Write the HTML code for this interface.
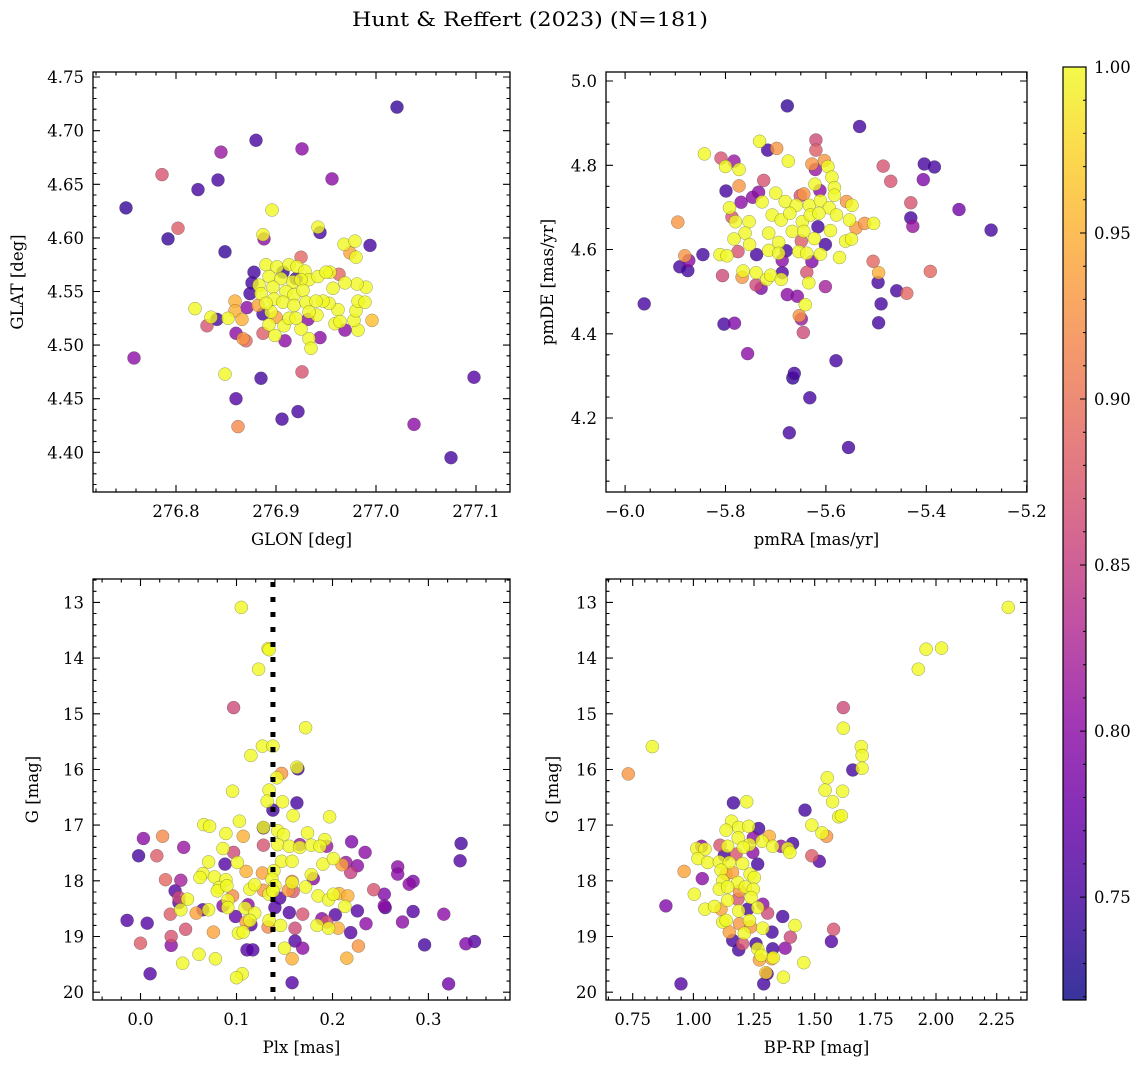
<!DOCTYPE html>
<html><head><meta charset="utf-8">
<style>
html,body{margin:0;padding:0;background:#fff;}
svg{display:block;font-family:"DejaVu Serif","Liberation Serif",serif;}
</style></head>
<body>
<svg id="fig" width="1148" height="1067" viewBox="0 0 1148 1067" xmlns="http://www.w3.org/2000/svg">
<text x="530" y="26" font-size="20" text-anchor="middle" textLength="356" lengthAdjust="spacingAndGlyphs">Hunt &amp; Reffert (2023) (N=181)</text>
</svg>
<script>
// ---- Panel 1: GLON vs GLAT ----
const glon = [277.021,276.880,276.845,276.926,276.786,276.842,276.822,276.956,276.750,276.896,
276.802,276.792,276.888,276.887,276.944,276.942,276.994,276.968,276.979,276.974,
276.980,276.849,276.925,276.878,276.876,276.874,276.871,276.841,276.831,276.819,
276.835,276.852,276.859,276.859,276.866,276.860,276.867,276.870,276.887,276.899,
276.909,276.944,276.933,276.935,276.969,276.982,276.996,276.978,276.980,276.962,
276.959,276.964,276.982,276.989,276.990,276.981,276.969,276.963,276.954,276.957,
276.953,276.947,276.941,276.932,276.925,276.908,276.893,276.895,276.900,276.887,
276.882,276.907,276.920,276.890,276.901,276.913,276.921,276.929,276.933,276.942,
276.883,276.893,276.905,276.917,276.925,276.885,276.897,276.910,276.918,276.927,
276.898,276.907,276.918,276.930,276.940,276.890,276.913,276.920,276.933,276.950,
276.758,276.849,276.885,276.926,276.860,276.906,276.922,276.862,277.038,277.098,
277.075];
const glat = [4.722,4.691,4.680,4.683,4.659,4.654,4.645,4.655,4.628,4.626,
4.609,4.599,4.599,4.603,4.605,4.610,4.593,4.594,4.597,4.586,
4.582,4.587,4.582,4.568,4.558,4.548,4.535,4.524,4.518,4.534,
4.526,4.525,4.541,4.532,4.524,4.511,4.506,4.504,4.511,4.509,
4.504,4.507,4.506,4.497,4.514,4.514,4.523,4.523,4.532,4.533,
4.520,4.522,4.541,4.540,4.554,4.557,4.558,4.566,4.568,4.553,
4.539,4.541,4.528,4.524,4.515,4.518,4.519,4.531,4.526,4.529,
4.537,4.568,4.562,4.575,4.573,4.575,4.573,4.569,4.561,4.564,
4.556,4.564,4.562,4.559,4.561,4.548,4.554,4.550,4.547,4.551,
4.543,4.540,4.537,4.540,4.541,4.539,4.525,4.525,4.531,4.568,
4.488,4.473,4.469,4.475,4.450,4.431,4.438,4.424,4.426,4.470,
4.395];
const prob1 = [.74,.75,.81,.80,.87,.75,.75,.80,.74,1,
.88,.74,.80,1,.75,1,.75,1,1,.94,
1,.74,.89,.75,.75,.75,.80,.75,.87,1,
1,1,.95,.95,.95,.80,.93,.89,.88,1,
.80,.80,1,1,.80,1,.96,1,1,1,
1,1,1,1,1,1,1,.89,1,1,
1,1,1,.80,1,1,1,1,.94,.75,
.94,.74,.75,1,1,1,1,1,1,1,
1,1,1,1,1,1,1,1,1,1,
1,1,1,1,1,1,1,1,1,1,
.80,1,.75,.87,.76,.75,.75,.92,.80,.76,
.75];

// ---- Panel 2: pmRA vs pmDE ----
const pmra = [-5.677,-5.533,-5.732,-5.716,-5.698,-5.842,-5.809,-5.783,-5.800,-5.773,
-5.675,-5.620,-5.620,-5.628,-5.603,-5.596,-5.621,-5.588,-5.583,-5.622,
-5.612,-5.583,-5.559,-5.548,-5.486,-5.471,-5.404,-5.384,-5.406,-5.431,
-5.431,-5.427,-5.335,-5.271,-5.799,-5.773,-5.724,-5.769,-5.746,-5.734,
-5.792,-5.787,-5.895,-5.881,-5.873,-5.891,-5.875,-5.845,-5.962,-5.811,
-5.797,-5.775,-5.738,-5.806,-5.767,-5.765,-5.739,-5.739,-5.729,-5.718,
-5.710,-5.689,-5.687,-5.687,-5.679,-5.677,-5.657,-5.641,-5.653,-5.649,
-5.645,-5.638,-5.634,-5.628,-5.601,-5.616,-5.601,-5.506,-5.495,-5.496,
-5.490,-5.495,-5.459,-5.439,-5.392,-5.573,-5.649,-5.803,-5.782,-5.756,
-5.580,-5.663,-5.666,-5.632,-5.673,-5.555,-5.644,-5.651,-5.540,-5.523,
-5.505,-5.553,-5.561,-5.549,-5.700,-5.681,-5.659,-5.633,-5.611,-5.593,
-5.579,-5.707,-5.689,-5.672,-5.647,-5.631,-5.614,-5.753,-5.761,-5.783,
-5.752,-5.714,-5.694,-5.667,-5.644,-5.623,-5.591,-5.714,-5.694,-5.654,
-5.638,-5.611,-5.780,-5.727];
const pmde = [4.941,4.892,4.857,4.836,4.840,4.827,4.817,4.810,4.797,4.790,
4.810,4.860,4.836,4.803,4.811,4.797,4.790,4.772,4.747,4.755,
4.740,4.729,4.714,4.705,4.798,4.762,4.803,4.796,4.766,4.711,
4.675,4.655,4.695,4.646,4.739,4.751,4.764,4.712,4.724,4.736,
4.699,4.677,4.665,4.585,4.574,4.559,4.550,4.588,4.471,4.588,
4.585,4.595,4.588,4.538,4.534,4.549,4.545,4.516,4.508,4.529,
4.539,4.529,4.545,4.574,4.597,4.493,4.489,4.469,4.443,4.435,
4.403,4.546,4.521,4.571,4.612,4.654,4.512,4.572,4.545,4.522,
4.471,4.426,4.502,4.496,4.548,4.581,4.620,4.423,4.425,4.353,
4.336,4.306,4.295,4.248,4.165,4.130,4.732,4.728,4.651,4.662,
4.662,4.670,4.620,4.625,4.734,4.714,4.705,4.705,4.716,4.699,
4.682,4.682,4.670,4.686,4.666,4.682,4.686,4.666,4.639,4.625,
4.612,4.639,4.617,4.643,4.643,4.626,4.645,4.598,4.591,4.595,
4.591,4.589,4.666,4.713];
const prob2 = [.74,.75,1,.75,.93,1,.87,.81,1,1,
1,.86,.88,.93,.93,1,.81,1,1,1,
.80,1,.93,1,.87,.87,.75,.75,.79,.87,
.75,.81,.78,.75,.75,.93,.87,.80,.80,.80,
1,.87,.93,.93,.80,.75,.75,.75,.75,1,
1,.87,.75,.86,.93,1,1,.86,.79,1,
1,1,.76,.80,.75,.80,.80,1,.93,.81,
.86,.87,1,.79,.75,.75,.82,.89,.95,.75,
.75,.75,.75,.89,.89,1,.88,.75,.79,.80,
.75,.75,.74,.75,.75,.75,.93,.87,.93,.93,
1,1,1,1,1,1,1,1,1,1,
1,1,1,1,1,1,1,1,1,1,
1,1,1,1,1,1,1,1,1,1,
1,1,1,1];

// ---- Panel 3: Plx vs G ----
const plx = [.105,.133,.134,.123,.097,.172,.127,.138,.115,.147,
.164,.163,.142,.096,.134,.148,.132,.163,.138,.159,
.197,.103,.066,.072,.128,.128,.143,.149,.174,.089,
.107,.023,.003,.045,.017,-.002,.128,.143,.155,.166,
.178,.192,.187,.194,.166,.220,.234,.334,.333,.086,
.097,.071,.088,.101,.147,.158,.190,.201,.210,.214,
.219,.226,.268,.268,.280,.284,.243,.254,.254,.255,
.284,.273,.316,.348,.339,.296,.321,.065,.062,.077,
.089,.110,.127,.139,.137,.158,.158,.178,.180,.026,
.042,.082,.080,.090,.114,.119,.128,.134,.140,.138,
.154,.159,.172,.185,.196,.201,.207,.216,.213,.036,
.040,.040,.049,.096,.091,.091,.086,.112,.109,.065,
.071,.042,.031,.058,.099,.119,.114,.115,.110,.133,
.134,.140,.145,.155,.146,.169,.189,.194,.184,.196,
.206,.203,.226,.235,.219,.161,.161,.169,.150,.158,
.158,.215,.227,-.014,.007,.000,.032,.032,.047,.076,
.061,.078,.044,.010,.102,.107,.111,.117,.106,.100];
const gmag3 = [13.09,13.83,13.85,14.20,14.89,15.25,15.58,15.58,15.75,16.07,
15.99,15.96,16.15,16.39,16.37,16.58,16.57,16.60,16.73,16.83,
16.85,16.93,16.99,17.02,17.05,17.04,17.10,17.17,17.14,17.15,
17.20,17.20,17.24,17.40,17.55,17.55,17.36,17.35,17.38,17.40,
17.36,17.26,17.38,17.38,17.35,17.30,17.49,17.33,17.64,17.42,
17.49,17.66,17.70,17.67,17.65,17.65,17.70,17.60,17.71,17.67,
17.85,17.73,17.75,17.88,18.06,18.01,18.16,18.24,18.45,18.48,
18.55,18.74,18.60,19.09,19.13,19.15,19.85,17.87,17.94,17.93,
17.98,17.83,17.86,17.82,17.97,18.01,18.03,17.89,17.96,17.98,
17.99,18.12,18.18,18.09,18.15,18.07,18.17,18.24,18.09,18.18,
18.17,18.19,18.11,18.27,18.34,18.24,18.23,18.27,18.46,18.18,
18.30,18.39,18.33,18.27,18.35,18.48,18.45,18.43,18.49,18.52,
18.52,18.52,18.60,18.58,18.64,18.58,18.71,18.79,18.74,18.83,
18.71,18.48,18.31,18.57,18.80,18.60,18.68,18.74,18.80,18.85,
18.85,18.61,18.54,18.77,18.93,18.85,19.08,19.21,19.21,19.40,
19.83,19.39,19.17,18.71,18.76,19.12,19.00,19.16,18.87,18.92,
19.32,19.40,19.48,19.67,18.94,18.92,19.24,19.24,19.67,19.74];
const prob3 = [1,1,1,1,.86,1,1,1,1,.93,
.75,1,1,1,1,1,1,.75,.75,1,
1,1,1,1,.75,1,1,1,1,1,
.95,.92,.80,.81,.88,.75,.87,1,1,1,
1,1,1,.81,.81,.79,.80,.75,.76,1,
.86,1,.76,1,1,1,1,1,.94,.81,
.85,.80,.80,.80,.80,.79,.87,.79,.80,.76,
.76,.80,.80,.76,.79,.75,.78,1,1,1,
1,.95,.94,1,1,.92,1,1,.80,.89,
.82,1,1,1,1,1,.93,1,1,1,
.93,.88,1,1,1,1,.95,.95,1,.76,
.86,.76,1,.92,1,1,.80,.80,1,.76,
1,1,.88,.94,.77,1,1,.76,.94,.92,
1,.76,.76,.76,1,.87,.80,.87,1,1,
.95,.76,.76,.80,.76,.86,.76,.80,1,.95,
.76,.95,.93,.76,.76,.88,.87,.80,.87,.94,
1,1,1,.76,1,1,.76,.76,1,1];
const plxRef = [0.138];

// ---- Panel 4: BP-RP vs G ----
const bprp = [2.298,1.959,2.023,1.927,1.618,1.618,0.831,1.692,1.696,1.695,
1.657,0.732,1.552,1.543,1.615,1.574,1.165,1.220,1.460,1.599,
1.610,1.488,1.530,1.549,1.157,1.135,1.187,1.228,1.269,1.185,
1.247,1.313,1.283,1.231,1.327,1.361,1.409,1.389,1.398,1.034,
1.014,1.048,1.110,1.141,1.019,1.059,1.128,1.176,1.245,1.206,
1.265,1.488,1.519,0.962,1.037,0.887,1.004,1.048,1.087,0.949,
1.107,1.148,1.114,1.135,1.161,1.203,1.234,1.251,1.121,1.183,
1.107,1.141,1.214,1.247,1.190,1.141,1.183,1.238,1.224,1.265,
1.286,1.114,1.187,1.306,1.121,1.135,1.190,1.231,1.286,1.236,
1.210,1.148,1.324,1.368,1.419,1.400,1.378,1.578,1.569,1.162,
1.187,1.203,1.258,1.265,1.279,1.272,1.327,1.323,1.330,1.304,
1.299,1.290,1.371,1.455];
const gmag4 = [13.09,13.84,13.82,14.20,14.89,15.26,15.59,15.59,15.75,15.98,
16.01,16.08,16.15,16.37,16.39,16.58,16.60,16.58,16.73,16.85,
16.83,17.00,17.14,17.20,16.93,17.09,17.04,17.02,17.06,17.23,
17.23,17.20,17.29,17.35,17.38,17.38,17.33,17.42,17.49,17.38,
17.42,17.43,17.36,17.38,17.60,17.67,17.54,17.52,17.49,17.40,
17.70,17.55,17.65,17.83,17.96,18.45,18.24,18.51,18.46,19.85,
17.66,17.67,17.81,17.88,17.85,17.69,17.88,17.94,18.00,18.03,
18.15,18.11,18.11,18.15,18.18,18.35,18.33,18.30,18.51,18.48,
18.42,18.51,18.54,18.58,18.74,18.71,18.77,18.71,18.85,18.83,
18.94,18.92,18.92,18.64,18.80,19.01,19.21,18.87,19.09,19.07,
19.24,19.13,19.13,19.22,19.34,19.42,19.22,19.40,19.38,19.67,
19.65,19.85,19.73,19.47];
const prob4 = [1,1,1,1,.86,1,1,1,1,1,
.75,.93,1,1,1,1,.75,1,.75,1,
1,1,1,.93,1,1,1,1,.75,1,
.80,.95,1,1,1,.81,.75,1,1,.80,
1,1,.87,1,1,1,.75,.87,.80,1,
.75,.88,.76,.94,.80,.79,1,1,1,.76,
1,1,1,.94,.94,1,1,1,1,1,
1,1,1,1,.93,1,.87,1,.75,1,
.80,.94,1,.86,1,1,.93,1,1,.93,
1,.94,.75,.75,1,.86,.80,.87,.76,.75,
.75,.87,.75,1,1,.94,.75,.94,1,.75,
.97,.75,1,1];

// ---- Colorbar ticks ----
const cbarTicks = [0.75,0.80,0.85,0.90,0.95,1.00];
const cbarRange = [0.719, 1.0];

const NS = "http://www.w3.org/2000/svg";
const svg = document.getElementById('fig');
const PLASMA = ["#0d0887","#41049d","#6a00a8","#8f0da4","#b12a90","#cc4778","#e16462","#f2844b","#fca636","#fcce25","#f0f921"];
function hex(h){return [parseInt(h.slice(1,3),16),parseInt(h.slice(3,5),16),parseInt(h.slice(5,7),16)];}
function plasma(t){
  t=Math.max(0,Math.min(1,t));
  const f=t*10, i=Math.min(9,Math.floor(f)), u=f-i;
  const a=hex(PLASMA[i]), b=hex(PLASMA[i+1]);
  return "rgb("+a.map((v,k)=>Math.round(v+(b[k]-v)*u)).join(",")+")";
}
function el(tag, attrs, parent){
  const e=document.createElementNS(NS,tag);
  for(const k in attrs) e.setAttribute(k,attrs[k]);
  (parent||svg).appendChild(e); return e;
}
function fmt(v,d){ const s=Math.abs(v).toFixed(d); return (v< -1e-9?"\u2212":"")+s; }

function panel(c){
  const g=el('g',{});
  
  
  const sx=v=>c.L+(v-c.x0)/(c.x1-c.x0)*(c.R-c.L);
  const sy=v=>c.yInv ? c.T+(v-c.y0)/(c.y1-c.y0)*(c.B-c.T) : c.B-(v-c.y0)/(c.y1-c.y0)*(c.B-c.T);
  const idx=c.xs.map((_,i)=>i).sort((a,b)=>c.ps[a]-c.ps[b]);
  const pg=el('g',{},g);
  
  
  idx.forEach(i=>{
    const t=(c.ps[i]-cbarRange[0])/(cbarRange[1]-cbarRange[0]);
    const cir=el('circle',{cx:sx(c.xs[i]).toFixed(1),cy:sy(c.ys[i]).toFixed(1),r:6.5,fill:plasma(t),'fill-opacity':0.8,stroke:'#333','stroke-width':0.45,'stroke-opacity':0.55},pg);
    
    
  });
  if(c.vline){
    c.vline.forEach(v=>{
      const ln=el('line',{x1:sx(v),x2:sx(v),y1:c.T+3,y2:c.B,stroke:'#000','stroke-width':5,'stroke-dasharray':'5 10'},g);
      
      
    });
  }
  const fr=el('rect',{x:c.L,y:c.T,width:c.R-c.L,height:c.B-c.T,fill:'none',stroke:'#000','stroke-width':1.3},g);
  
  
  let d='';
  const eps=1e-6;
  for(let v=c.xmin0; v<=c.x1+eps; v+=c.xminor){ if(v<c.x0-eps) continue; const X=sx(v);
    const major=Math.abs((v-c.xt0)/c.xstep-Math.round((v-c.xt0)/c.xstep))<1e-3; const len=major?7:3.5;
    d+=`M${X.toFixed(1)} ${c.B}v${-len}M${X.toFixed(1)} ${c.T}v${len}`; }
  for(let v=c.ymin0; v<=Math.max(c.y0,c.y1)+eps; v+=c.yminor){ if(v<Math.min(c.y0,c.y1)-eps) continue; const Y=sy(v);
    const major=Math.abs((v-c.yt0)/c.ystep-Math.round((v-c.yt0)/c.ystep))<1e-3; const len=major?7:3.5;
    d+=`M${c.L} ${Y.toFixed(1)}h${len}M${c.R} ${Y.toFixed(1)}h${-len}`; }
  el('path',{d:d,stroke:'#000','stroke-width':1.1,fill:'none'},g);
  c.xticks.forEach(v=>{
    const t=el('text',{x:sx(v),y:c.B+25,'font-size':16.5,'text-anchor':'middle'},g);
    t.textContent=fmt(v,c.xd);
    
    
  });
  c.yticks.forEach(v=>{
    const t=el('text',{x:c.L-9,y:sy(v)+6,'font-size':16.5,'text-anchor':'end'},g);
    t.textContent=fmt(v,c.yd);
    
    
  });
  const xl=el('text',{x:(c.L+c.R)/2,y:c.B+53,'font-size':16.5,'text-anchor':'middle'},g);
  xl.textContent=c.xlabel;
  
  
  const yc=(c.T+c.B)/2;
  const yl=el('text',{x:c.ylx,y:yc,'font-size':16.5,'text-anchor':'middle',transform:`rotate(-90 ${c.ylx} ${yc})`},g);
  yl.textContent=c.ylabel;
  
  
}

panel({name:'glon-glat-panel',L:93,R:510,T:72,B:492,x0:276.717,x1:277.134,y0:4.363,y1:4.7547,
  xs:glon,ys:glat,ps:prob1,xt0:276.8,xstep:0.1,xminor:0.02,xmin0:276.72,yt0:4.4,ystep:0.05,yminor:0.01,ymin0:4.37,
  xticks:[276.8,276.9,277.0,277.1],xd:1,yticks:[4.40,4.45,4.50,4.55,4.60,4.65,4.70,4.75],yd:2,
  xlabel:'GLON [deg]',ylabel:'GLAT [deg]',ylx:23});
panel({name:'pm-panel',L:606,R:1027,T:72,B:492,x0:-6.038,x1:-5.1995,y0:4.0244,y1:5.0214,
  xs:pmra,ys:pmde,ps:prob2,xt0:-6.0,xstep:0.2,xminor:0.05,xmin0:-6.0,yt0:4.2,ystep:0.2,yminor:0.05,ymin0:4.05,
  xticks:[-6.0,-5.8,-5.6,-5.4,-5.2],xd:1,yticks:[4.2,4.4,4.6,4.8,5.0],yd:1,
  xlabel:'pmRA [mas/yr]',ylabel:'pmDE [mas/yr]',ylx:553});
panel({name:'plx-g-panel',L:93,R:510,T:579,B:1000,x0:-0.0495,x1:0.385,y0:12.58,y1:20.14,yInv:true,
  xs:plx,ys:gmag3,ps:prob3,vline:plxRef,xt0:0,xstep:0.1,xminor:0.02,xmin0:-0.04,yt0:13,ystep:1,yminor:0.2,ymin0:12.6,
  xticks:[0.0,0.1,0.2,0.3],xd:1,yticks:[13,14,15,16,17,18,19,20],yd:0,
  xlabel:'Plx [mas]',ylabel:'G [mag]',ylx:38});
panel({name:'cmd-panel',L:606,R:1027,T:579,B:1000,x0:0.640,x1:2.375,y0:12.58,y1:20.14,yInv:true,
  xs:bprp,ys:gmag4,ps:prob4,xt0:0.75,xstep:0.25,xminor:0.05,xmin0:0.65,yt0:13,ystep:1,yminor:0.2,ymin0:12.6,
  xticks:[0.75,1.00,1.25,1.50,1.75,2.00,2.25],xd:2,yticks:[13,14,15,16,17,18,19,20],yd:0,
  xlabel:'BP-RP [mag]',ylabel:'G [mag]',ylx:558});

(function(){
  const L=1063,R=1086,T=67,B=1000;
  const defs=el('defs',{});
  const lg=el('linearGradient',{id:'plasmaGrad',x1:0,y1:1,x2:0,y2:0},defs);
  PLASMA.forEach((c,i)=>{ el('stop',{offset:(i/10),'stop-color':c,'stop-opacity':0.82},lg); });
  const cb=el('g',{});
  
  
  el('rect',{x:L,y:T,width:R-L,height:B-T,fill:'url(#plasmaGrad)'},cb);
  el('rect',{x:L,y:T,width:R-L,height:B-T,fill:'none',stroke:'#000','stroke-width':1.2},cb);
  const sy=v=>B-(v-cbarRange[0])/(cbarRange[1]-cbarRange[0])*(B-T);
  let d='';
  for(let v=0.72; v<=1.0001; v+=0.01){ const Y=sy(v); const major=Math.abs(v*20-Math.round(v*20))<1e-3;
    const len=major?6:3; d+=`M${R} ${Y.toFixed(1)}h${-len}`; }
  el('path',{d:d,stroke:'#000','stroke-width':1},cb);
  cbarTicks.forEach(v=>{
    const t=el('text',{x:R+8,y:sy(v)+6,'font-size':16.5},cb);
    t.textContent=v.toFixed(2);
    
    
  });
})();
</script>
</body></html>
